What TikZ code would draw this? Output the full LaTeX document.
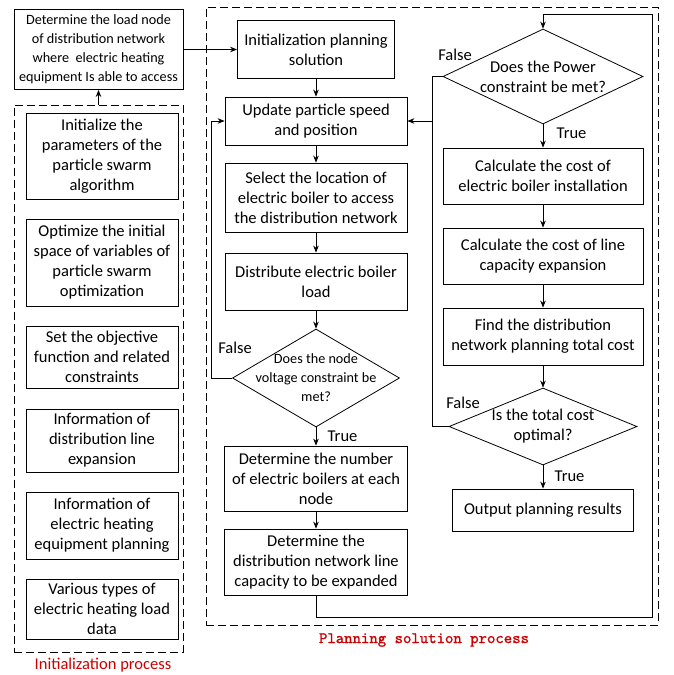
\documentclass[tikz,border=0pt]{standalone}
\usepackage{fontspec}
\setmainfont{Carlito}
\newfontfamily\planmono{lmmono10-regular.otf}[FakeBold=1.2]
\usetikzlibrary{positioning,arrows.meta,shapes.geometric}
\definecolor{capred}{RGB}{204,0,0}
\newcommand{\boxfont}{\fontsize{16.5}{20}\selectfont}
\newcommand{\smallfont}{\fontsize{14.2}{19}\selectfont}
\tikzset{
  >=Stealth,
  every picture/.style={line width=0.8pt},
}

\begin{document}
\begin{tikzpicture}[
  x=1pt, y=-1pt,
  ->,>={Stealth[length=7pt,width=5.5pt]},
  box/.style={draw, align=center, inner sep=1pt, font=\boxfont},
  decision/.style={draw, diamond, inner sep=0pt},
  zone/.style={draw, dash pattern=on 8pt off 4pt, inner sep=0pt},
  lbl/.style={font=\boxfont},
  caption/.style={text=capred}
]

\useasboundingbox (0,0) rectangle (673,675);

% initialization process
\node[zone, minimum width=169pt, minimum height=547pt] (initzone) at (98.5,378.5) {};
\node[box, minimum width=152pt, minimum height=86pt] (par) at (102,156) {Initialize the\\parameters of the\\particle swarm\\algorithm};
\node[box, minimum width=152pt, minimum height=87pt] (space) at (102,262.5) {Optimize the initial\\space of variables of\\particle swarm\\optimization};
\node[box, minimum width=152pt, minimum height=62pt] (obj) at (102,357) {Set the objective\\function and related\\constraints};
\node[box, minimum width=152pt, minimum height=63pt] (lineinfo) at (102,440.5) {Information of\\distribution line\\expansion};
\node[box, minimum width=152pt, minimum height=67pt] (equip) at (102,525.5) {Information of\\electric heating\\equipment planning};
\node[box, minimum width=152pt, minimum height=60pt] (loaddata) at (102,609) {Various types of\\electric heating load\\data};
\node[caption, font=\boxfont] (initcap) at (103,665) {Initialization process};

\node[box, font=\smallfont, minimum width=169pt, minimum height=80pt] (loadnode) at (98.5,49.5) {Determine the load node\\of distribution network\\where\ \ electric heating\\equipment Is able to access};

% planning solution process
\node[zone, minimum width=452pt, minimum height=618pt] (planzone) at (432,316) {};
\node[caption, font=\planmono\fontsize{16}{18}\selectfont] (plancap) at (424,640) {Planning solution process};

\node[box, minimum width=157pt, minimum height=58pt] (initplan) at (316,49.5) {Initialization planning\\solution};
\node[box, minimum width=182pt, minimum height=48pt] (update) at (316,121) {Update particle speed\\and position};
\node[box, minimum width=182pt, minimum height=69pt] (select) at (316,197.5) {Select the location of\\electric boiler to access\\the distribution network};
\node[box, minimum width=182pt, minimum height=57pt] (distrib) at (316,281.5) {Distribute electric boiler\\load};
\node[decision, minimum width=167pt, minimum height=98pt,
  label={[font=\smallfont, align=center]center:Does the node\\voltage constraint be\\met?}] (dia1) at (316,378) {};
\node[box, minimum width=183pt, minimum height=65pt] (number) at (316,478.5) {Determine the number\\of electric boilers at each\\node};
\node[box, minimum width=183pt, minimum height=66pt] (capacity) at (316,562) {Determine the\\distribution network line\\capacity to be expanded};

\node[decision, minimum width=200pt, minimum height=95pt,
  label={[font=\boxfont, align=center]center:Does the Power\\constraint be met?}] (dia2) at (543,76.5) {};
\node[box, minimum width=200pt, minimum height=56pt] (boiler) at (543,176) {Calculate the cost of\\electric boiler installation};
\node[box, minimum width=200pt, minimum height=56pt] (linecost) at (543,256) {Calculate the cost of line\\capacity expansion};
\node[box, minimum width=200pt, minimum height=57pt] (total) at (543,336.5) {Find the distribution\\network planning total cost};
\node[decision, minimum width=188pt, minimum height=77pt,
  label={[font=\boxfont, align=center]center:Is the total cost\\optimal?}] (dia3) at (543,426.5) {};
\node[box, minimum width=181pt, minimum height=42pt] (output) at (543,510) {Output planning results};

\node[lbl] (false1) at (235,348) {False};
\node[lbl] (false2) at (455,55) {False};
\node[lbl] (false3) at (463,403) {False};

\coordinate (loopbot) at (652,617);
\coordinate (looptop) at (652,14);
\coordinate (fbx) at (433,0);

% connectors
\draw (initzone.north) -- (loadnode.south);
\draw (loadnode.east) -- (initplan.west);
\draw (initplan) -- (update);
\draw (update) -- (select);
\draw (select) -- (distrib);
\draw (distrib) -- (dia1);
\draw (dia1.south) -- node[lbl, right, xshift=8pt] {True} (number.north);
\draw (number) -- (capacity);
\draw (dia1.west) -- ++(-21,0) |- (update.west);
\draw (capacity.south) |- (loopbot) -- (looptop) -| (dia2.north);
\draw (dia2.south) -- node[lbl, right, xshift=10pt, pos=0.4] {True} (boiler.north);
\draw (boiler) -- (linecost);
\draw (linecost) -- (total);
\draw (total) -- (dia3);
\draw (dia3.south) -- node[lbl, right, xshift=8pt, pos=0.45] {True} (output.north);
\draw[-] (dia2.west) -- ++(-10,0) |- (dia3.west);
\draw (fbx |- update.east) -- (update.east);

\end{tikzpicture}
\end{document}
